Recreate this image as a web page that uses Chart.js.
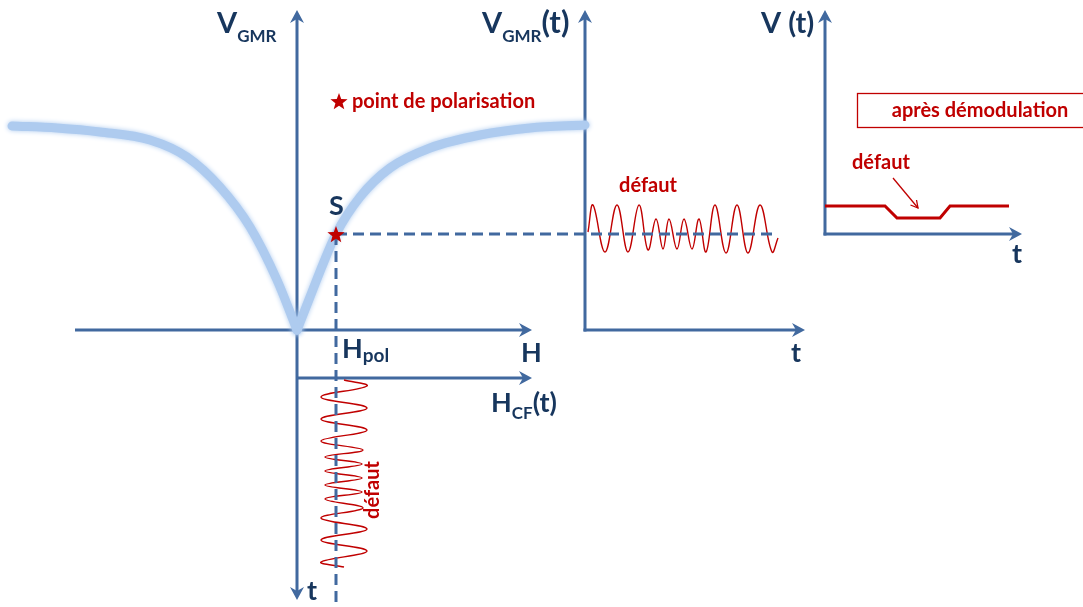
<!DOCTYPE html>
<html><head><meta charset="utf-8">
<script src="https://cdn.jsdelivr.net/npm/chart.js@4/dist/chart.umd.min.js"></script>
<style>html,body{margin:0;padding:0;background:#fff}#wrap{width:1083px;height:607px;position:relative}</style>
</head><body><div id="wrap"><canvas id="c"></canvas></div>
<script>
// ---- GMR transfer curve V_GMR(H) (H relative to origin, V upward) ----
const gmrLeftH  = [-285, -240, -197, -147, -110, -77, -47, -20, 0];
const gmrLeftV  = [204, 202, 198, 190, 173, 143, 103, 50, 0];
const gmrRightH = [0, 13, 26, 39, 63, 93, 133, 183, 233, 288];
const gmrRightV = [0, 33, 66, 96, 133, 162, 182, 195, 202, 205];
// ---- bias (polarisation) point S ----
const biasH = 39, biasV = 96;
// ---- response signal V_GMR(t) (extremes, time offsets) ----
const sigT    = [3, 8, 20, 32, 43, 54, 63, 71, 78, 84, 92, 99, 107, 114, 121, 130, 141, 152, 163, 175, 187, 193];
const vgmrSig = [98, 125, 78, 125, 78, 125, 80, 111, 81, 111, 81, 111, 81, 111, 78, 125, 77, 125, 77, 125, 78, 92];
// ---- excitation signal H_CF(t) (extremes, time offsets) ----
const hcfT    = [2, 8, 19, 30, 41, 52, 63, 72, 79, 86, 93, 100, 107, 114, 121, 130, 140, 151, 162, 173, 184, 189];
const hcfSig  = [47, 70, 24, 70, 24, 70, 24, 66, 28, 65, 28, 65, 28, 65, 28, 66, 24, 70, 24, 70, 24, 47];
// ---- demodulated signal V(t) ----
const demodT = [0, 60, 72, 115, 125, 184];
const demodV = [28, 28, 16, 16, 28, 28];
// ---- texts ----
const labelPoint = 'point de polarisation';
const labelDefaut = 'défaut';
const labelDemod = 'après démodulation';

const FONT = 'Lato, "Open Sans", sans-serif';
const NAVY = '#17365D', RED = '#C00000', AXIS = '#41699F', CURVE = '#AECBEF';

const zip = (a, b) => a.map((v, i) => ({x: v, y: b[i]}));

function makeStar(size, color) {
  const c = document.createElement('canvas'); c.width = c.height = size;
  const g = c.getContext('2d'); g.fillStyle = color; g.beginPath();
  const cx = size / 2, cy = size / 2 + size * 0.06, R = size / 2, r = R * 0.42;
  for (let i = 0; i < 10; i++) {
    const a = -Math.PI / 2 + i * Math.PI / 5, rr = i % 2 ? r : R;
    g.lineTo(cx + rr * Math.cos(a), cy + rr * Math.sin(a));
  }
  g.closePath(); g.fill(); return c;
}
const star = makeStar(18, RED);

function arrow(ctx, x1, y1, x2, y2, L = 13, W = 7, notch = 4) {
  const dx = x2 - x1, dy = y2 - y1, d = Math.hypot(dx, dy), ux = dx / d, uy = dy / d, nx = -uy, ny = ux;
  ctx.beginPath(); ctx.moveTo(x1, y1); ctx.lineTo(x2 - ux * (L - notch), y2 - uy * (L - notch)); ctx.stroke();
  ctx.beginPath();
  ctx.moveTo(x2, y2);
  ctx.lineTo(x2 - ux * L + nx * W, y2 - uy * L + ny * W);
  ctx.lineTo(x2 - ux * (L - notch), y2 - uy * (L - notch));
  ctx.lineTo(x2 - ux * L - nx * W, y2 - uy * L - ny * W);
  ctx.closePath(); ctx.fill();
}
function rich(ctx, x, y, parts, color) {
  let cx = x; ctx.fillStyle = color; ctx.textAlign = 'left'; ctx.textBaseline = 'alphabetic';
  for (const p of parts) {
    ctx.font = `bold ${p.s}px ${FONT}`;
    ctx.fillText(p.t, cx, y + (p.dy || 0));
    cx += ctx.measureText(p.t).width + (p.gap || 0);
  }
}

const diagram = {
  id: 'diagram',
  beforeDatasetsDraw(chart) {
    const ctx = chart.ctx, s = chart.scales;
    ctx.save(); ctx.strokeStyle = AXIS; ctx.fillStyle = AXIS; ctx.lineWidth = 3;
    const X = (id, v) => s[id].getPixelForValue(v);
    const x0 = X('xA', 0), y0 = X('yA', 0);
    arrow(ctx, x0, y0, x0, X('yA', 320));                 // V_GMR
    arrow(ctx, x0, y0 - 1, x0, X('yD', 222));             // t (down)
    arrow(ctx, X('xA', -222), y0, X('xA', 235), y0);      // H
    arrow(ctx, x0, X('yD', 0), X('xA', 235), X('yD', 0)); // H_CF(t)
    const xb = X('xB', 0);
    arrow(ctx, xb, y0 + 1.5, xb, X('yA', 320));           // V_GMR(t)
    arrow(ctx, xb - 1.5, y0, X('xB', 220), y0);           // t
    const xc = X('xC', 0), yc = X('yC', 0);
    arrow(ctx, xc, yc + 1.5, xc, X('yC', 224));           // V(t)
    arrow(ctx, xc - 1.5, yc, X('xC', 197), yc);           // t
    ctx.restore();
  },
  beforeDatasetDraw(chart, args) {
    const ds = chart.data.datasets[args.index];
    chart.ctx.save();
    if (ds.glow) { chart.ctx.shadowColor = CURVE; chart.ctx.shadowBlur = 5; }
  },
  afterDatasetDraw(chart) { chart.ctx.restore(); },
  afterDraw(chart) {
    const ctx = chart.ctx;
    ctx.save();
    // axis titles
    rich(ctx, 217, 33, [{t: 'V', s: 29}, {t: 'GMR', s: 17, dy: 9}], NAVY);
    rich(ctx, 482, 33, [{t: 'V', s: 29}, {t: 'GMR', s: 17, dy: 9}, {t: '(t)', s: 31}], NAVY);
    rich(ctx, 761, 33, [{t: 'V (t)', s: 29}], NAVY);
    rich(ctx, 521, 362, [{t: 'H', s: 27}], NAVY);
    rich(ctx, 491, 412, [{t: 'H', s: 27}, {t: 'CF', s: 17, dy: 7}, {t: '(t)', s: 27}], NAVY);
    rich(ctx, 342, 358, [{t: 'H', s: 27}, {t: 'pol', s: 19, dy: 4}], NAVY);
    rich(ctx, 329, 215, [{t: 'S', s: 27}], NAVY);
    rich(ctx, 791, 362, [{t: 't', s: 27}], NAVY);
    rich(ctx, 1012, 263, [{t: 't', s: 27}], NAVY);
    rich(ctx, 307, 600, [{t: 't', s: 27}], NAVY);
    // red annotations
    ctx.fillStyle = RED; ctx.font = `bold 20px ${FONT}`; ctx.textBaseline = 'alphabetic';
    ctx.textAlign = 'left'; ctx.fillText(labelPoint, 352, 108);
    ctx.textAlign = 'center'; ctx.fillText(labelDefaut, 648, 192);
    ctx.textAlign = 'left'; ctx.fillText(labelDefaut, 852, 169);
    ctx.textAlign = 'center'; ctx.fillText(labelDemod, 980, 117);
    ctx.save(); ctx.translate(379, 490); ctx.rotate(-Math.PI / 2); ctx.fillText(labelDefaut, 0, 0); ctx.restore();
    ctx.strokeStyle = RED; ctx.lineWidth = 1.3;
    ctx.strokeRect(857.5, 93.5, 240, 34);
    // small arrow to defect
    ctx.beginPath(); ctx.moveTo(893, 178); ctx.lineTo(918, 208); ctx.stroke();
    ctx.beginPath(); ctx.moveTo(910.5, 205); ctx.lineTo(918, 208); ctx.lineTo(916.5, 200); ctx.stroke();
    ctx.restore();
  }
};

const lineBase = {pointRadius: 0, pointHoverRadius: 0, fill: false};
new Chart(document.getElementById('c'), {
  type: 'line',
  data: {
    datasets: [
      {...lineBase, data: [{x: biasH, y: biasV}], xAxisID: 'xA', yAxisID: 'yA', showLine: false,
        pointStyle: star, pointRadius: 9, order: 0},
      {...lineBase, data: [{x: 42, y: 229}], xAxisID: 'xA', yAxisID: 'yA', showLine: false,
        pointStyle: star, pointRadius: 9, order: 0},
      {...lineBase, data: zip(demodT, demodV), xAxisID: 'xC', yAxisID: 'yC', borderColor: RED, borderWidth: 3, order: 2},
      {...lineBase, data: [{x: biasH, y: biasV}, {x: 481, y: biasV}], xAxisID: 'xA', yAxisID: 'yA',
        borderColor: AXIS, borderWidth: 3, borderDash: [11, 6], order: 3},
      {...lineBase, data: [{x: biasH, y: biasV}, {x: biasH, y: -280}], xAxisID: 'xA', yAxisID: 'yA',
        borderColor: AXIS, borderWidth: 3, borderDash: [11, 6], order: 3},
      {...lineBase, data: zip(sigT, vgmrSig), xAxisID: 'xB', yAxisID: 'yA', borderColor: RED, borderWidth: 1.4, tension: 0.4, order: 4},
      {...lineBase, data: zip(hcfSig, hcfT), xAxisID: 'xA', yAxisID: 'yD', borderColor: RED, borderWidth: 1.4, tension: 0.4, order: 4},
      {...lineBase, data: zip(gmrLeftH, gmrLeftV), xAxisID: 'xA', yAxisID: 'yA', borderColor: CURVE, borderWidth: 9,
        borderCapStyle: 'round', cubicInterpolationMode: 'monotone', glow: true, order: 5},
      {...lineBase, data: zip(gmrRightH, gmrRightV), xAxisID: 'xA', yAxisID: 'yA', borderColor: CURVE, borderWidth: 9,
        borderCapStyle: 'round', cubicInterpolationMode: 'monotone', glow: true, order: 5}
    ]
  },
  options: {
    responsive: true, maintainAspectRatio: false, animation: false, events: [],
    layout: {padding: 0, autoPadding: false},
    plugins: {legend: {display: false}, tooltip: {enabled: false}},
    scales: {
      xA: {type: 'linear', axis: 'x', min: -297, max: 786, display: false, bounds: 'data'},
      xB: {type: 'linear', axis: 'x', min: -585, max: 498, display: false, bounds: 'data'},
      xC: {type: 'linear', axis: 'x', min: -825, max: 258, display: false, bounds: 'data'},
      yA: {type: 'linear', axis: 'y', min: -277, max: 330, display: false, bounds: 'data'},
      yC: {type: 'linear', axis: 'y', min: -373, max: 234, display: false, bounds: 'data'},
      yD: {type: 'linear', axis: 'y', min: -378, max: 229, reverse: true, display: false, bounds: 'data'}
    }
  },
  plugins: [diagram]
});
</script>
</body></html>
